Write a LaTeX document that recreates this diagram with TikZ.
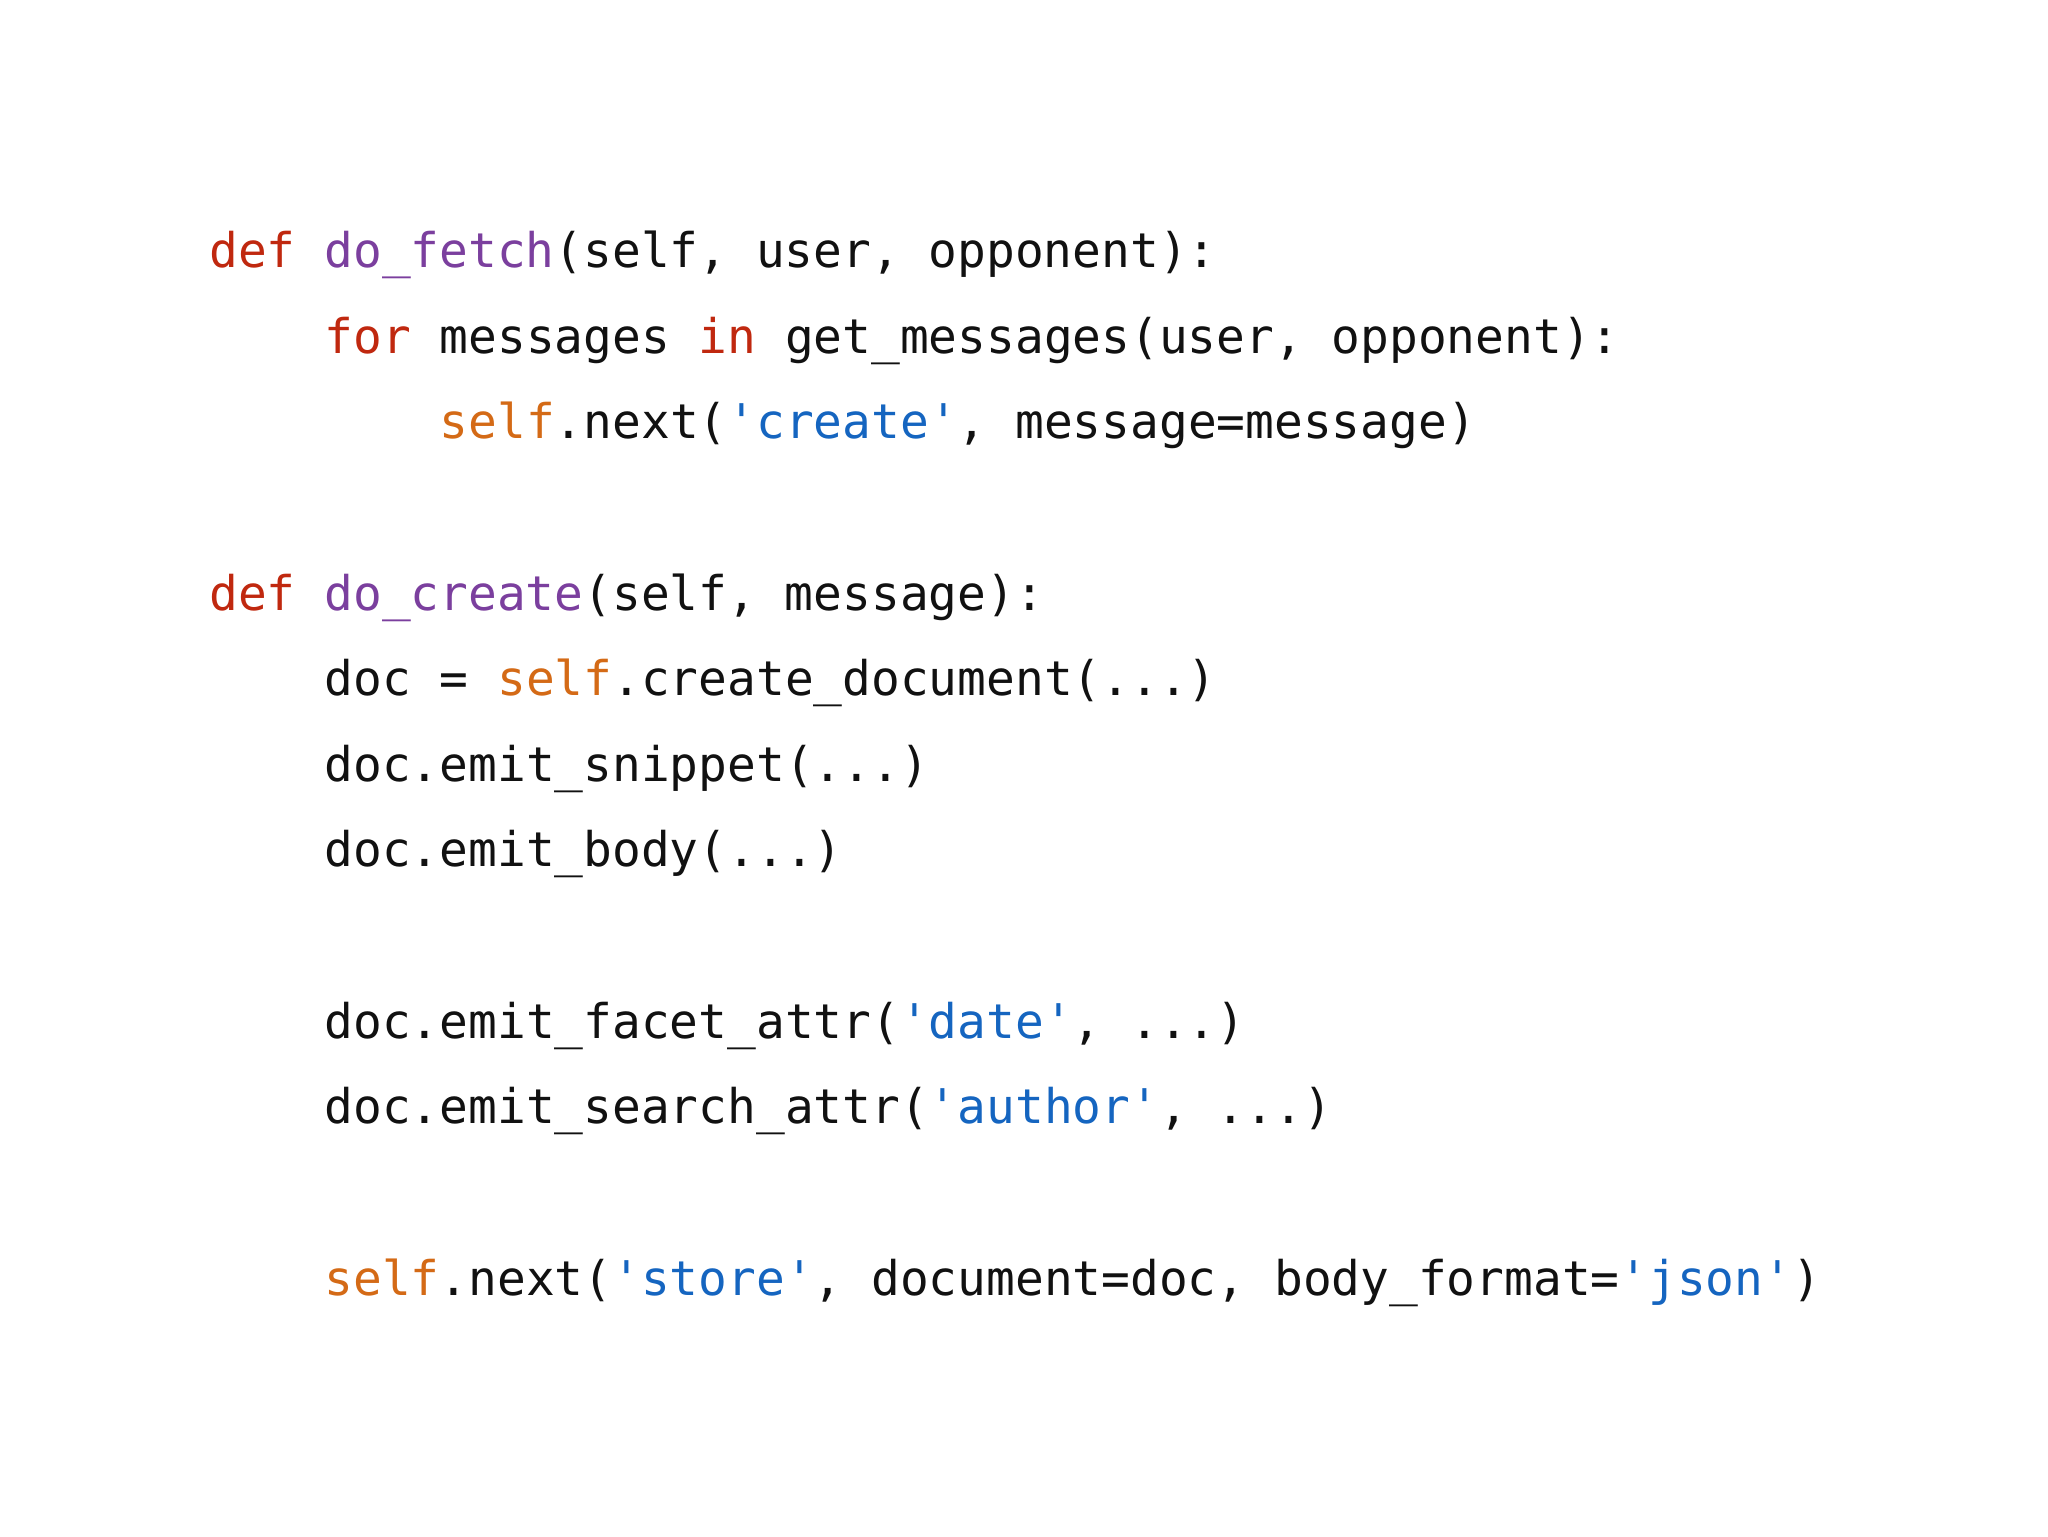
\documentclass[tikz,border=0pt]{standalone}
\usepackage{fontspec}
\setmonofont{DejaVu Sans Mono}
\definecolor{kw}{HTML}{C0280F}
\definecolor{fn}{HTML}{7B3F9E}
\definecolor{sf}{HTML}{D46A16}
\definecolor{st}{HTML}{1565C0}
\definecolor{tx}{HTML}{111111}
\newcommand{\cK}[1]{\textcolor{kw}{#1}}
\newcommand{\cF}[1]{\textcolor{fn}{#1}}
\newcommand{\cS}[1]{\textcolor{sf}{#1}}
\newcommand{\cQ}[1]{\textcolor{st}{#1}}
\begin{document}
\begin{tikzpicture}[x=1pt,y=1pt,
  code/.style={anchor=base west,inner sep=0pt,font=\ttfamily\fontsize{23.9}{28}\selectfont,text=tx}]
\useasboundingbox[fill=white] (0,0) rectangle (1024,768);
\def\xa{104.5}\def\xb{162.1}\def\xc{219.7}
\node[code] (l1) at (\xa,634.1) {\cK{def} \cF{do\_fetch}(self, user, opponent):};
\node[code] (l2) at (\xb,591.3) {\cK{for} messages \cK{in} get\_messages(user, opponent):};
\node[code] (l3) at (\xc,548.5) {\cS{self}.next(\cQ{'create'}, message=message)};
\node[code] (l4) at (\xa,462.9) {\cK{def} \cF{do\_create}(self, message):};
\node[code] (l5) at (\xb,420.1) {doc = \cS{self}.create\_document(...)};
\node[code] (l6) at (\xb,377.3) {doc.emit\_snippet(...)};
\node[code] (l7) at (\xb,334.5) {doc.emit\_body(...)};
\node[code] (l8) at (\xb,248.9) {doc.emit\_facet\_attr(\cQ{'date'}, ...)};
\node[code] (l9) at (\xb,206.1) {doc.emit\_search\_attr(\cQ{'author'}, ...)};
\node[code] (l10) at (\xb,120.5) {\cS{self}.next(\cQ{'store'}, document=doc, body\_format=\cQ{'json'})};
\end{tikzpicture}
\end{document}
